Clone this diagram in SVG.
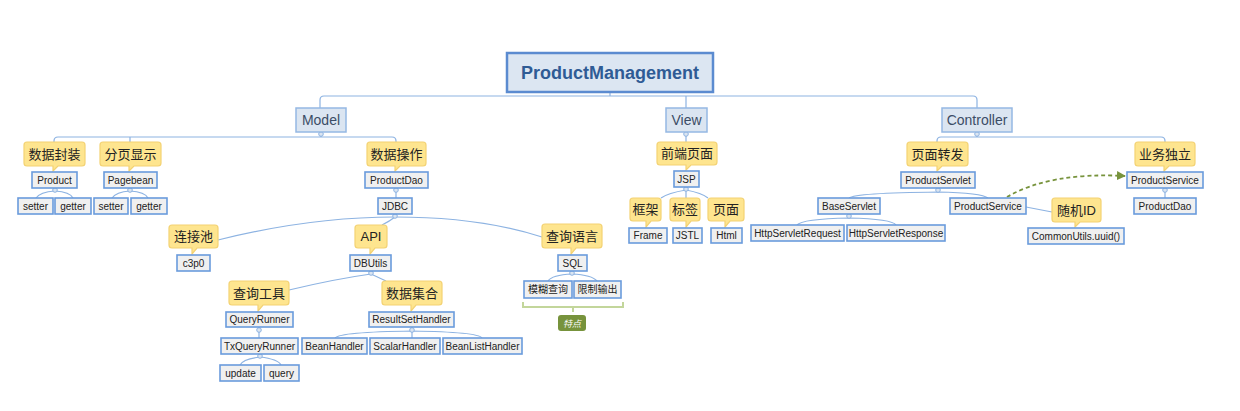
<svg xmlns="http://www.w3.org/2000/svg" width="1240" height="411" viewBox="0 0 1240 411">
<defs>
<style>
text{font-family:"Liberation Sans","Noto Sans CJK SC",sans-serif;text-anchor:middle;fill:#333}
.root rect{fill:#dce6f2;stroke:#5b8bd0;stroke-width:2.5}
.root text{font-size:18px;font-weight:bold;fill:#2f5b95}
.l1 rect{fill:#dbe5f1;stroke:#95b8e3;stroke-width:1.5}
.l1 text{font-size:14px;fill:#3b4d66}
.co path{fill:#fee58f;stroke:#f3d273;stroke-width:1.2}
.co text{font-size:13px;fill:#222}
.bx rect{fill:#f0f0f0;stroke:#6a9bdc;stroke-width:1.6}
.bx text{font-size:10px;fill:#222}
.cn path{fill:none;stroke:#8db3e2;stroke-width:1.2}
.cn circle{fill:#dbe5f1;stroke:#8db3e2;stroke-width:1}
</style>
<marker id="ah" viewBox="0 0 10 10" refX="9" refY="5" markerWidth="5" markerHeight="5" orient="auto"><path d="M0,0 L10,5 L0,10 Z" fill="#77933c"/></marker>
</defs>
<rect width="1240" height="411" fill="#fff"/>

<g id="connectors" class="cn">
<path d="M610,92 V96"/>
<path d="M320,108 V100 Q320,96 324,96 H973 Q977,96 977,100 V108"/>
<path d="M686,96 V108"/>
<path d="M321,132 V137"/>
<path d="M54,142 V141 Q54,137 58,137 H392 Q396,137 396,141 V142"/>
<path d="M130,137 V142"/>
<path d="M977,132 V137"/>
<path d="M937,142 V141 Q937,137 941,137 H1161 Q1165,137 1165,141 V142"/>
<path d="M686,132 V142"/>
<path d="M36,198 Q40,192 55,191 Q70,192 73,198"/>
<path d="M112,198 Q116,192 130,191 Q145,192 148,198"/>
<path d="M396,188 V198"/>
<path d="M395,217 Q310,217 218,240"/>
<path d="M395,217 Q390,221 382,225"/>
<path d="M395,217 Q480,217 542,237"/>
<path d="M371,274 Q335,279 289,290"/>
<path d="M371,274 L386,281"/>
<path d="M259,327 V338"/>
<path d="M240,365 Q243,359 260,357 Q278,359 281,365"/>
<path d="M335,338 Q340,332 412,331 Q478,332 482,338"/>
<path d="M412,331 V338"/>
<path d="M548,281 Q552,275 572,274 Q592,275 597,281"/>
<path d="M686,190 Q668,193 661,198"/>
<path d="M686,190 V198"/>
<path d="M686,190 Q702,193 708,198"/>
<path d="M849,198 Q855,193 938,192 Q982,193 988,198"/>
<path d="M1026,207 L1052,212"/>
<path d="M1165,188 V198"/>
<path d="M797,225 Q802,219 849,218 Q892,219 896,225"/>
<circle cx="321" cy="134" r="2.3"/>
<circle cx="686" cy="134" r="2.3"/>
<circle cx="977" cy="134" r="2.3"/>
<circle cx="55" cy="190" r="2.3"/>
<circle cx="130" cy="190" r="2.3"/>
<circle cx="396" cy="190" r="2.3"/>
<circle cx="395" cy="216" r="2.3"/>
<circle cx="371" cy="273" r="2.3"/>
<circle cx="572" cy="273" r="2.3"/>
<circle cx="259" cy="330" r="2.3"/>
<circle cx="260" cy="356" r="2.3"/>
<circle cx="412" cy="330" r="2.3"/>
<circle cx="686" cy="189" r="2.3"/>
<circle cx="938" cy="190" r="2.3"/>
<circle cx="849" cy="216" r="2.3"/>
<circle cx="1165" cy="190" r="2.3"/>
<path d="M523,302 V307 H623 V302 M573,307 V312" style="stroke:#c3d69b;stroke-width:2"/>
<path d="M1007,197 Q1050,172 1125,176" style="stroke:#77933c;stroke-width:1.8;stroke-dasharray:4 3" marker-end="url(#ah)"/>
</g>

<g id="root" class="root"><rect x="507" y="53" width="206" height="39"/><text x="610" y="79">ProductManagement</text></g>
<g id="model" class="l1"><rect x="296" y="108" width="50" height="24"/><text x="321" y="125">Model</text></g>
<g id="view" class="l1"><rect x="666" y="108" width="41" height="24"/><text x="686.5" y="125">View</text></g>
<g id="controller" class="l1"><rect x="942" y="108" width="70" height="24"/><text x="977" y="125">Controller</text></g>

<g id="c-shujufengzhuang" class="co"><path d="M27,142 H82 Q85,142 85,145 V163 Q85,166 82,166 H58 L53,171 V166 H27 Q24,166 24,163 V145 Q24,142 27,142 Z"/><text x="54.5" y="158.5">数据封装</text></g>
<g id="c-fenyexianshi" class="co"><path d="M103,142 H158 Q161,142 161,145 V163 Q161,166 158,166 H134 L129,171 V166 H103 Q100,166 100,163 V145 Q100,142 103,142 Z"/><text x="130.5" y="158.5">分页显示</text></g>
<g id="c-shujucaozuo" class="co"><path d="M370,142 H423 Q426,142 426,145 V163 Q426,166 423,166 H400 L395,171 V166 H370 Q367,166 367,163 V145 Q367,142 370,142 Z"/><text x="396.5" y="158.5">数据操作</text></g>
<g id="c-lianjiechi" class="co"><path d="M172,225 H215 Q218,225 218,228 V245 Q218,248 215,248 H197 L192,254 V248 H172 Q169,248 169,245 V228 Q169,225 172,225 Z"/><text x="193.5" y="241">连接池</text></g>
<g id="c-api" class="co"><path d="M358,225 H384 Q387,225 387,228 V245 Q387,248 384,248 H375 L370,254 V248 H358 Q355,248 355,245 V228 Q355,225 358,225 Z"/><text x="371" y="241">API</text></g>
<g id="c-chaxunyuyan" class="co"><path d="M545,224 H599 Q602,224 602,227 V245 Q602,248 599,248 H576 L571,254 V248 H545 Q542,248 542,245 V227 Q542,224 545,224 Z"/><text x="572" y="240.5">查询语言</text></g>
<g id="c-chaxungongju" class="co"><path d="M232,281 H286 Q289,281 289,284 V302 Q289,305 286,305 H263 L258,311 V305 H232 Q229,305 229,302 V284 Q229,281 232,281 Z"/><text x="259" y="297.5">查询工具</text></g>
<g id="c-shujujihe" class="co"><path d="M385,281 H439 Q442,281 442,284 V302 Q442,305 439,305 H416 L411,311 V305 H385 Q382,305 382,302 V284 Q382,281 385,281 Z"/><text x="412" y="297.5">数据集合</text></g>
<g id="c-qianduanyemian" class="co"><path d="M660,142 H714 Q717,142 717,145 V162 Q717,165 714,165 H691 L686,170 V165 H660 Q657,165 657,162 V145 Q657,142 660,142 Z"/><text x="687" y="158">前端页面</text></g>
<g id="c-kuangjia" class="co"><path d="M633,198 H658 Q661,198 661,201 V218 Q661,221 658,221 H651 L646,227 V221 H633 Q630,221 630,218 V201 Q630,198 633,198 Z"/><text x="645.5" y="214">框架</text></g>
<g id="c-biaoqian" class="co"><path d="M673,198 H697 Q700,198 700,201 V218 Q700,221 697,221 H691 L686,227 V221 H673 Q670,221 670,218 V201 Q670,198 673,198 Z"/><text x="685" y="214">标签</text></g>
<g id="c-yemian" class="co"><path d="M711,198 H741 Q744,198 744,201 V218 Q744,221 741,221 H730 L725,227 V221 H711 Q708,221 708,218 V201 Q708,198 711,198 Z"/><text x="726" y="214">页面</text></g>
<g id="c-yemianzhuanfa" class="co"><path d="M910,142 H965 Q968,142 968,145 V163 Q968,166 965,166 H942 L937,171 V166 H910 Q907,166 907,163 V145 Q907,142 910,142 Z"/><text x="937.5" y="158.5">页面转发</text></g>
<g id="c-yewuduli" class="co"><path d="M1138,142 H1192 Q1195,142 1195,145 V163 Q1195,166 1192,166 H1169 L1164,171 V166 H1138 Q1135,166 1135,163 V145 Q1135,142 1138,142 Z"/><text x="1165" y="158.5">业务独立</text></g>
<g id="c-suijiid" class="co"><path d="M1055,198 H1098 Q1101,198 1101,201 V219 Q1101,222 1098,222 H1080 L1075,227 V222 H1055 Q1052,222 1052,219 V201 Q1052,198 1055,198 Z"/><text x="1076.5" y="214.5">随机ID</text></g>

<g id="n-product" class="bx"><rect x="32" y="172" width="45" height="16"/><text x="54.5" y="183.5">Product</text></g>
<g id="n-setter1" class="bx"><rect x="18" y="198" width="35" height="16"/><text x="35.5" y="209.5">setter</text></g>
<g id="n-getter1" class="bx"><rect x="55" y="198" width="36" height="16"/><text x="73" y="209.5">getter</text></g>
<g id="n-pagebean" class="bx"><rect x="104" y="172" width="53" height="16"/><text x="130.5" y="183.5">Pagebean</text></g>
<g id="n-setter2" class="bx"><rect x="94" y="198" width="34" height="16"/><text x="111" y="209.5">setter</text></g>
<g id="n-getter2" class="bx"><rect x="131" y="198" width="36" height="16"/><text x="149" y="209.5">getter</text></g>
<g id="n-productdao" class="bx"><rect x="365" y="172" width="63" height="16"/><text x="396.5" y="183.5">ProductDao</text></g>
<g id="n-jdbc" class="bx"><rect x="378" y="198" width="34" height="16"/><text x="395" y="209.5">JDBC</text></g>
<g id="n-c3p0" class="bx"><rect x="177" y="255" width="33" height="16"/><text x="193.5" y="266.5">c3p0</text></g>
<g id="n-dbutils" class="bx"><rect x="350" y="255" width="41" height="16"/><text x="370.5" y="266.5">DBUtils</text></g>
<g id="n-sql" class="bx"><rect x="558" y="255" width="29" height="16"/><text x="572.5" y="266.5">SQL</text></g>
<g id="n-mohuchaxun" class="bx"><rect x="524" y="281" width="48" height="17"/><text x="548" y="293">模糊查询</text></g>
<g id="n-xianzhishuchu" class="bx"><rect x="574" y="281" width="47" height="17"/><text x="597.5" y="293">限制输出</text></g>
<g id="n-queryrunner" class="bx"><rect x="226" y="312" width="67" height="15"/><text x="259.5" y="323">QueryRunner</text></g>
<g id="n-txqueryrunner" class="bx"><rect x="221" y="338" width="77" height="16"/><text x="259.5" y="349.5">TxQueryRunner</text></g>
<g id="n-update" class="bx"><rect x="220" y="365" width="41" height="16"/><text x="240.5" y="376.5">update</text></g>
<g id="n-query" class="bx"><rect x="264" y="365" width="35" height="16"/><text x="281.5" y="376.5">query</text></g>
<g id="n-resultsethandler" class="bx"><rect x="369" y="312" width="85" height="15"/><text x="411.5" y="323">ResultSetHandler</text></g>
<g id="n-beanhandler" class="bx"><rect x="302" y="338" width="65" height="16"/><text x="334.5" y="349.5">BeanHandler</text></g>
<g id="n-scalarhandler" class="bx"><rect x="370" y="338" width="70" height="16"/><text x="405" y="349.5">ScalarHandler</text></g>
<g id="n-beanlisthandler" class="bx"><rect x="443" y="338" width="79" height="16"/><text x="482.5" y="349.5">BeanListHandler</text></g>
<g id="n-jsp" class="bx"><rect x="674" y="171" width="25" height="16"/><text x="686.5" y="182.5">JSP</text></g>
<g id="n-frame" class="bx"><rect x="629" y="228" width="38" height="15"/><text x="648" y="239">Frame</text></g>
<g id="n-jstl" class="bx"><rect x="673" y="228" width="29" height="15"/><text x="687.5" y="239">JSTL</text></g>
<g id="n-html" class="bx"><rect x="711" y="228" width="31" height="15"/><text x="726.5" y="239">Html</text></g>
<g id="n-productservlet" class="bx"><rect x="901" y="172" width="74" height="16"/><text x="938" y="183.5">ProductServlet</text></g>
<g id="n-baseservlet" class="bx"><rect x="818" y="198" width="62" height="16"/><text x="849" y="209.5">BaseServlet</text></g>
<g id="n-productservice-mid" class="bx"><rect x="950" y="198" width="76" height="16"/><text x="988" y="209.5">ProductService</text></g>
<g id="n-commonutils" class="bx"><rect x="1028" y="228" width="96" height="16"/><text x="1076" y="239.5">CommonUtils.uuid()</text></g>
<g id="n-httpservletrequest" class="bx"><rect x="751" y="225" width="93" height="16"/><text x="797.5" y="236.5">HttpServletRequest</text></g>
<g id="n-httpservletresponse" class="bx"><rect x="847" y="225" width="98" height="16"/><text x="896" y="236.5">HttpServletResponse</text></g>
<g id="n-productservice-right" class="bx"><rect x="1127" y="172" width="76" height="16"/><text x="1165" y="183.5">ProductService</text></g>
<g id="n-productdao-right" class="bx"><rect x="1134" y="198" width="62" height="16"/><text x="1165" y="209.5">ProductDao</text></g>

<g id="label-tedian"><rect x="558" y="315" width="28" height="16" rx="3" fill="#77933c"/><text x="572" y="326.5" style="font-size:9px;font-style:italic;fill:#fff">特点</text></g>
</svg>
